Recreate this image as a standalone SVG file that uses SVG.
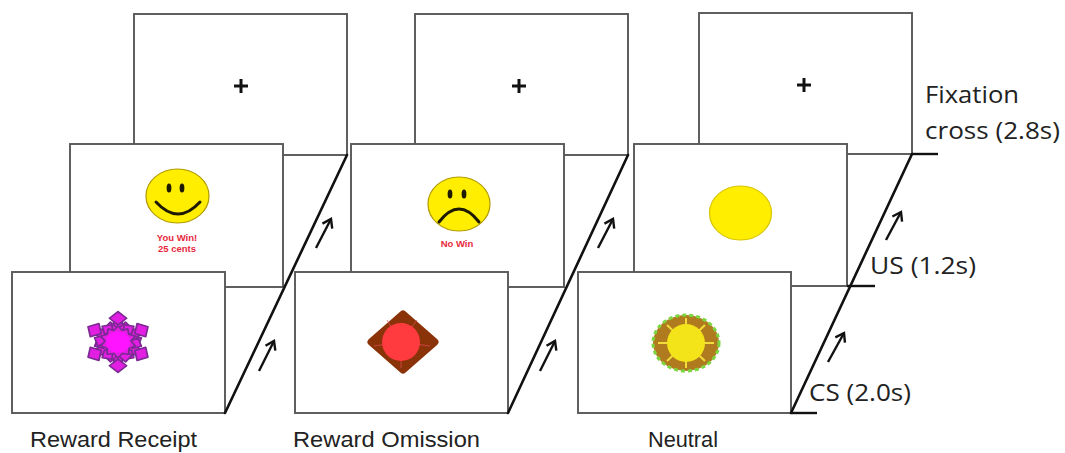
<svg xmlns="http://www.w3.org/2000/svg" width="1065" height="453" viewBox="0 0 1065 453">
  <style>
    .screen { fill: #ffffff; stroke: #585858; stroke-width: 1.9; }
    .axis { fill: none; stroke: #111111; stroke-width: 2.6; stroke-linecap: round; }
    .tick { fill: none; stroke: #111111; stroke-width: 2.4; }
    .step { fill: none; stroke: #111111; stroke-width: 2.4; marker-end: url(#head); }
    .cross { stroke: #111111; stroke-width: 3; }
    .label { font-family: "Liberation Sans", Arial, sans-serif; font-size: 22px; fill: #222222; }
    .timing { font-family: "Open Sans", "Liberation Sans", sans-serif; font-size: 23px; fill: #222222; }
    .feedback { font-family: "Liberation Sans", Arial, sans-serif; font-size: 9.5px; font-weight: bold; fill: #e8283c; text-anchor: middle; }
    .face { fill: #ffee00; stroke: #b09a00; stroke-width: 1.2; }
    .ink { fill: none; stroke: #1e1a00; stroke-width: 3; stroke-linecap: round; }
    .flake { fill: #e21ee2; stroke: #7a2a92; stroke-width: 1.6; stroke-linejoin: round; }
  </style>
  <defs>
    <marker id="head" viewBox="-10 -7 12 14" refX="0" refY="0" markerWidth="12" markerHeight="14" markerUnits="userSpaceOnUse" orient="auto" overflow="visible">
      <path d="M-8,-5.5 L0,0 L-8,5.5" fill="none" stroke="#111111" stroke-width="2.4" stroke-linejoin="miter"/>
    </marker>
    <!-- one arm of the snowflake stimulus, pointing up -->
    <g id="flake-arm">
      <rect x="-4" y="-24" width="8" height="16" class="flake"/>
      <polygon points="-7,-21 -1,-15 -6,-9 -13,-14" class="flake"/>
      <polygon points="7,-21 13,-14 6,-9 1,-15" class="flake"/>
      <polygon points="0,-32 8,-25 0,-18 -8,-25" class="flake"/>
    </g>
  </defs>

  <rect width="1065" height="453" fill="#ffffff"/>

  <!-- Trial type 1: reward receipt -->
  <g id="fixation-1">
    <rect class="screen" x="134" y="14" width="213" height="141"/>
    <line class="cross" x1="234" y1="86" x2="248" y2="86"/>
    <line class="cross" x1="241" y1="79" x2="241" y2="93"/>
  </g>
  <g id="us-reward">
    <rect class="screen" x="70" y="144" width="213" height="143"/>
    <ellipse class="face" cx="177.5" cy="196" rx="31.5" ry="27"/>
    <ellipse cx="169" cy="188" rx="2.4" ry="4.5" fill="#1e1a00"/>
    <ellipse cx="182" cy="188" rx="2.4" ry="4.5" fill="#1e1a00"/>
    <path class="ink" d="M156,202 Q178,226 200,202"/>
    <text class="feedback" x="177" y="241">You Win!</text>
    <text class="feedback" x="177" y="252">25 cents</text>
  </g>
  <g id="cs-reward">
    <rect class="screen" x="12" y="272" width="213" height="141"/>
    <g transform="translate(118,342) scale(1.08,0.95)">
      <use href="#flake-arm"/>
      <use href="#flake-arm" transform="rotate(60)"/>
      <use href="#flake-arm" transform="rotate(120)"/>
      <use href="#flake-arm" transform="rotate(180)"/>
      <use href="#flake-arm" transform="rotate(240)"/>
      <use href="#flake-arm" transform="rotate(300)"/>
      <polygon class="flake" points="0,-17 4,-12 9,-14 10,-8 16,-6 12,-1 16,4 10,7 10,13 4,12 0,17 -4,12 -10,13 -10,7 -16,4 -12,-1 -16,-6 -10,-8 -9,-14 -4,-12"/>
      <circle r="11" fill="#ff14ff"/>
    </g>
  </g>
  <g id="label-receipt">
    <text class="label" x="30" y="447" textLength="167" lengthAdjust="spacingAndGlyphs">Reward Receipt</text>
  </g>

  <!-- Trial type 2: reward omission -->
  <g id="fixation-2">
    <rect class="screen" x="415" y="14" width="213" height="141"/>
    <line class="cross" x1="512" y1="86" x2="526" y2="86"/>
    <line class="cross" x1="519" y1="79" x2="519" y2="93"/>
  </g>
  <g id="us-omission">
    <rect class="screen" x="351" y="144" width="213" height="143"/>
    <ellipse class="face" cx="459" cy="204" rx="31" ry="27"/>
    <ellipse cx="450" cy="194" rx="2.4" ry="4.5" fill="#1e1a00"/>
    <ellipse cx="464" cy="194" rx="2.4" ry="4.5" fill="#1e1a00"/>
    <path class="ink" d="M439,222 Q459,196 479,222"/>
    <text class="feedback" x="457" y="247">No Win</text>
  </g>
  <g id="cs-omission">
    <rect class="screen" x="295" y="272" width="213" height="141"/>
    <polygon points="403,314 435,342 403,370 371,342" fill="#8a3208" stroke="#8a3208" stroke-width="7" stroke-linejoin="round"/>
    <g stroke="#e8505a" stroke-width="1" opacity="0.7">
      <line x1="401" y1="342" x2="387" y2="320"/>
      <line x1="401" y1="342" x2="417" y2="320"/>
      <line x1="401" y1="342" x2="374" y2="346"/>
      <line x1="401" y1="342" x2="430" y2="346"/>
      <line x1="401" y1="342" x2="401" y2="368"/>
    </g>
    <circle cx="401" cy="342" r="19" fill="#ff3b3f"/>
  </g>
  <g id="label-omission">
    <text class="label" x="293" y="447" textLength="187" lengthAdjust="spacingAndGlyphs">Reward Omission</text>
  </g>

  <!-- Trial type 3: neutral -->
  <g id="fixation-3">
    <rect class="screen" x="699" y="13" width="213" height="141"/>
    <line class="cross" x1="797" y1="85" x2="811" y2="85"/>
    <line class="cross" x1="804" y1="78" x2="804" y2="92"/>
  </g>
  <g id="us-neutral">
    <rect class="screen" x="634" y="144" width="213" height="142"/>
    <ellipse cx="740.5" cy="213" rx="31" ry="27" fill="#ffee00" stroke="#d8c400" stroke-width="1.2"/>
  </g>
  <g id="cs-neutral">
    <rect class="screen" x="578" y="272" width="213" height="141"/>
    <ellipse cx="686" cy="343" rx="33" ry="28" fill="#b07a1e" stroke="#7cd640" stroke-width="3" stroke-dasharray="4 3"/>
    <g stroke="#f2dc3c" stroke-width="2">
      <line x1="686" y1="343" x2="686" y2="318"/>
      <line x1="686" y1="343" x2="686" y2="368"/>
      <line x1="686" y1="343" x2="658" y2="343"/>
      <line x1="686" y1="343" x2="714" y2="343"/>
      <line x1="686" y1="343" x2="667" y2="325"/>
      <line x1="686" y1="343" x2="705" y2="325"/>
      <line x1="686" y1="343" x2="667" y2="361"/>
      <line x1="686" y1="343" x2="705" y2="361"/>
    </g>
    <circle cx="686" cy="343" r="19" fill="#f3e41a"/>
  </g>
  <g id="label-neutral">
    <text class="label" x="648" y="447" textLength="70" lengthAdjust="spacingAndGlyphs">Neutral</text>
  </g>

  <!-- Timeline: diagonals joining the screens and the step arrows -->
  <g id="connectors">
    <line class="axis" x1="225" y1="413" x2="347" y2="155"/>
    <line class="axis" x1="508" y1="413" x2="628" y2="155"/>
    <line class="axis" x1="791" y1="413" x2="912" y2="154"/>
    <line class="tick" x1="791" y1="413" x2="817" y2="413"/>
    <line class="tick" x1="847" y1="286" x2="875" y2="286"/>
    <line class="tick" x1="912" y1="154" x2="938" y2="154"/>
    <line class="step" x1="259" y1="371" x2="274" y2="341"/>
    <line class="step" x1="316" y1="248" x2="331" y2="219"/>
    <line class="step" x1="540" y1="371" x2="555" y2="341"/>
    <line class="step" x1="598" y1="248" x2="613" y2="219"/>
    <line class="step" x1="828" y1="362" x2="844" y2="333"/>
    <line class="step" x1="886" y1="240" x2="901" y2="212"/>
  </g>

  <!-- Phase durations -->
  <g id="timing-labels">
    <text class="timing" x="925" y="103" textLength="94" lengthAdjust="spacingAndGlyphs">Fixation</text>
    <text class="timing" x="925" y="139" textLength="135" lengthAdjust="spacingAndGlyphs">cross (2.8s)</text>
    <text class="timing" x="870" y="274" textLength="106" lengthAdjust="spacingAndGlyphs">US (1.2s)</text>
    <text class="timing" x="809" y="401" textLength="102" lengthAdjust="spacingAndGlyphs">CS (2.0s)</text>
  </g>
</svg>
